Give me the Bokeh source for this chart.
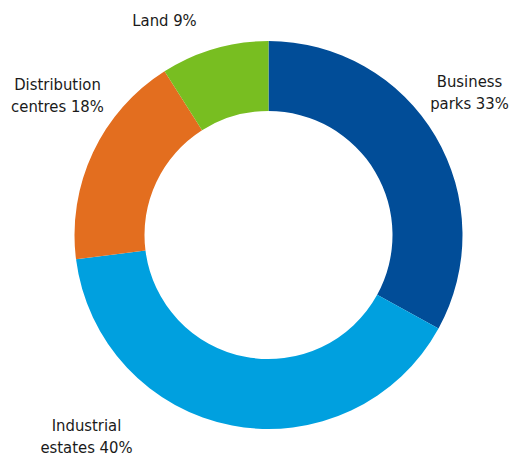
import math
from bokeh.plotting import figure
from bokeh.models import Range1d, ColumnDataSource
from bokeh.core.properties import value
from bokeh.embed import file_html
from bokeh.resources import INLINE

# Data
categories = ["Business parks", "Industrial estates", "Distribution centres", "Land"]
shares = [33, 40, 18, 9]
colors = ["#014d98", "#00a0df", "#e36e1f", "#78be21"]
label_texts = ["Business\nparks 33%", "Industrial\nestates 40%", "Distribution\ncentres 18%", "Land 9%"]
# label anchor positions in image pixel coordinates (x, y from top)
label_x = [469, 86, 57, 164]
label_y = [92, 436, 95, 20]

W, H = 512, 458
cx, cy = 268, H - 234.5
r_out, r_in = 194, 124

total = sum(shares)
starts, ends = [], []
cum = 0
for s in shares:
    starts.append(math.pi / 2 - 2 * math.pi * cum / total)
    cum += s
    ends.append(math.pi / 2 - 2 * math.pi * cum / total)

src = ColumnDataSource(dict(cat=categories, start=starts, end=ends, color=colors,
                            x=[cx] * len(shares), y=[cy] * len(shares)))

p = figure(width=W, height=H, output_backend="svg", toolbar_location=None,
           x_range=Range1d(0, W), y_range=Range1d(0, H),
           min_border=0)
p.axis.visible = False
p.grid.visible = False
p.outline_line_color = None

p.annular_wedge(x="x", y="y", inner_radius=r_in, outer_radius=r_out,
                start_angle="start", end_angle="end", direction="clock",
                color="color", line_color=None, source=src)

lsrc = ColumnDataSource(dict(x=label_x, y=[H - v for v in label_y], text=label_texts))
p.text(x="x", y="y", text="text", source=lsrc, text_align="center",
       text_baseline="middle", text_font=value("DejaVu Sans Condensed"),
       text_font_size="16.5px", text_color="#1a1a1a", text_line_height=1.15)

open("out.html", "w").write(file_html(p, INLINE))
